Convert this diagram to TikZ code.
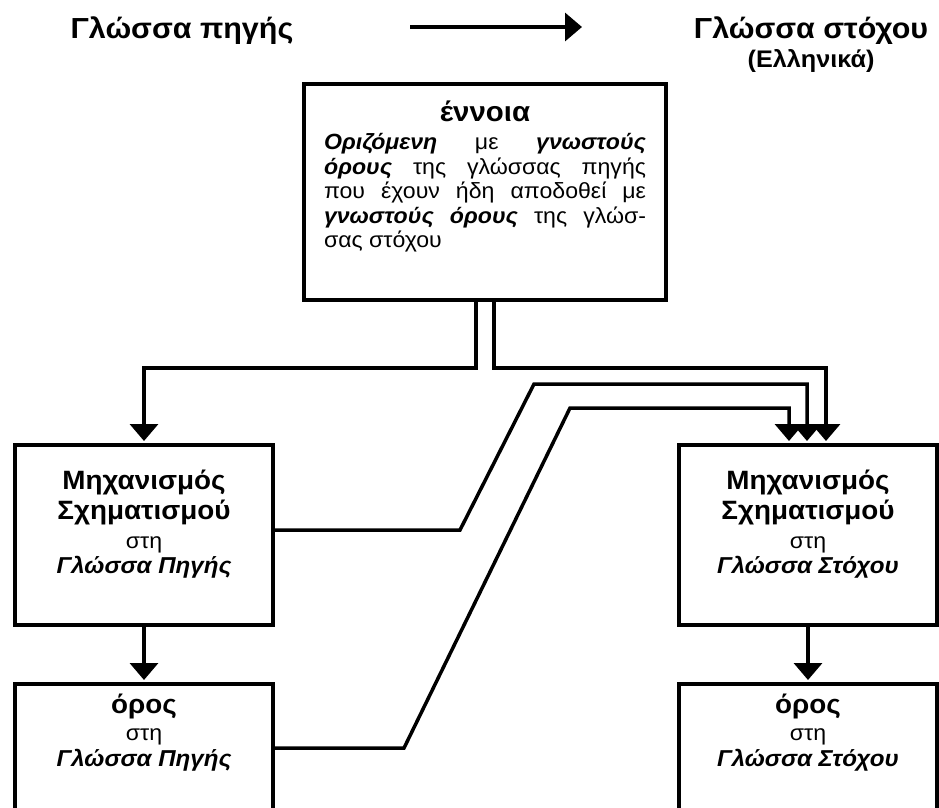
\documentclass[tikz,border=0pt]{standalone}
\usepackage{fontspec}
\setmainfont{Liberation Sans}[FakeStretch=1.05]
\usepackage{tikz}
\usetikzlibrary{arrows.meta,positioning}

\newcommand{\justline}[1]{\makebox[322pt][s]{#1}}
\newcommand{\bi}[1]{\textbf{\textit{#1}}}
\newcommand{\bigb}[1]{{\bfseries\fontsize{26.5}{30}\selectfont #1}}

\begin{document}
\begin{tikzpicture}[x=1pt,y=-1pt,>={Triangle[width=28pt,length=17pt]},
                    line width=3.5pt,shorten >=2pt]
  \tikzstyle{box}=[draw,rectangle,line width=4pt,inner sep=0pt]
  \tikzstyle{mech}=[box,minimum width=258pt,minimum height=180pt]
  \tikzstyle{term}=[box,minimum width=258pt,minimum height=140pt]
  \tikzstyle{heading}=[inner sep=0pt,anchor=base,font=\bfseries\fontsize{29}{32}\selectfont]
  \tikzstyle{boxtext}=[inner sep=0pt,align=center,font=\fontsize{22}{25}\selectfont]

  \useasboundingbox (0,0) rectangle (939,807);

  % headings
  \node[heading] (src)   at (182,38) {Γλώσσα πηγής};
  \node[heading] (tgt)   at (811,38) {Γλώσσα στόχου};
  \node[heading,font=\bfseries\fontsize{24}{26}\selectfont] (greek) at (811,67) {(Ελληνικά)};
  \coordinate (a1) at (410,27);
  \coordinate (a2) at (582,27);
  \draw[->,shorten >=0pt] (a1) -- (a2);

  % concept
  \node[box,minimum width=362pt,minimum height=216pt] (concept) at (485,192) {};
  \node[boxtext,font=\fontsize{22}{24.5}\selectfont,below=17pt of concept.north] (conceptText)
    {{\bfseries\fontsize{28}{30}\selectfont έννοια}\\[4pt]
     \justline{\bi{Οριζόμενη} με \bi{γνωστούς}}\\
     \justline{\bi{όρους} της γλώσσας πηγής}\\
     \justline{που έχουν ήδη αποδοθεί με}\\
     \justline{\bi{γνωστούς όρους} της γλώσ-}\\
     \makebox[322pt][l]{σας στόχου}};

  % source side
  \node[mech] (mechSrc) at (144,535) {};
  \node[term] (termSrc) at (144,754) {};
  \node[boxtext,below=25pt of mechSrc.north] (mechSrcText)
    {\bigb{Μηχανισμός}\\[5pt]
     \bigb{Σχηματισμού}\\[4pt]
     στη\\
     \bi{\fontsize{23}{25}\selectfont Γλώσσα Πηγής}};
  \node[boxtext,below=10pt of termSrc.north] (termSrcText)
    {\bigb{όρος}\\[2pt]
     στη\\[1pt]
     \bi{\fontsize{23}{25}\selectfont Γλώσσα Πηγής}};

  % target side
  \node[mech] (mechTgt) at (808,535) {};
  \node[term] (termTgt) at (808,754) {};
  \node[boxtext,below=25pt of mechTgt.north] (mechTgtText)
    {\bigb{Μηχανισμός}\\[5pt]
     \bigb{Σχηματισμού}\\[4pt]
     στη\\
     \bi{\fontsize{23}{25}\selectfont Γλώσσα Στόχου}};
  \node[boxtext,below=10pt of termTgt.north] (termTgtText)
    {\bigb{όρος}\\[2pt]
     στη\\[1pt]
     \bi{\fontsize{23}{25}\selectfont Γλώσσα Στόχου}};

  % connectors
  \draw[->] ([xshift=-9pt]concept.south) -- ++(0,66) -| (mechSrc.north);
  \draw[->] ([xshift=9pt]concept.south) -- ++(0,66) -| ([xshift=18pt]mechTgt.north);
  \draw[->] ([yshift=5pt]mechSrc.east) -- ++(185,0) -- ++(74,-146)
            -| ([xshift=-1pt]mechTgt.north);
  \draw[->] ([yshift=6pt]termSrc.east) -- ++(129,0) -- ++(166,-340)
            -| ([xshift=-19pt]mechTgt.north);
  \draw[->] (mechSrc) -- (termSrc);
  \draw[->] (mechTgt) -- (termTgt);
\end{tikzpicture}
\end{document}
